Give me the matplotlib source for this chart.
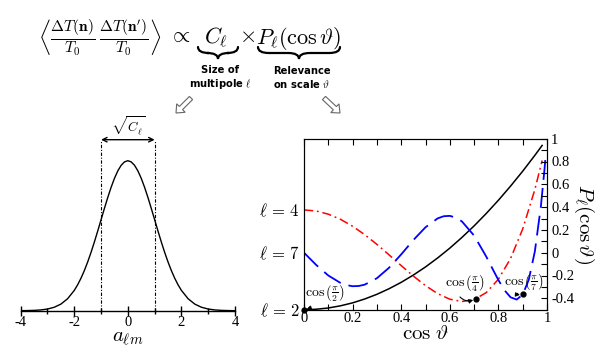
import matplotlib
matplotlib.use("Agg")
import matplotlib.pyplot as plt
from matplotlib.path import Path
from matplotlib.patches import PathPatch, FancyArrow
from matplotlib.transforms import IdentityTransform

plt.rcParams['mathtext.fontset'] = 'cm'
plt.rcParams['font.family'] = ['Liberation Serif', 'DejaVu Serif']

W, H = 605, 348

# left panel: distribution of a_lm
a_lm = [-4, -3.75, -3.5, -3.25, -3, -2.75, -2.5, -2.25, -2, -1.875, -1.75, -1.625,
        -1.5, -1.375, -1.25, -1.125, -1, -0.875, -0.75, -0.625, -0.5, -0.375, -0.25,
        -0.125, 0, 0.125, 0.25, 0.375, 0.5, 0.625, 0.75, 0.875, 1, 1.125, 1.25,
        1.375, 1.5, 1.625, 1.75, 1.875, 2, 2.25, 2.5, 2.75, 3, 3.25, 3.5, 3.75, 4]
density = [0.0003, 0.0009, 0.0022, 0.0051, 0.0111, 0.0228, 0.0439, 0.0796, 0.1353,
           0.1724, 0.2163, 0.2671, 0.3247, 0.3886, 0.4578, 0.5311, 0.6065, 0.6819,
           0.7548, 0.8226, 0.8825, 0.9321, 0.9692, 0.9922, 1.0, 0.9922, 0.9692,
           0.9321, 0.8825, 0.8226, 0.7548, 0.6819, 0.6065, 0.5311, 0.4578, 0.3886,
           0.3247, 0.2671, 0.2163, 0.1724, 0.1353, 0.0796, 0.0439, 0.0228, 0.0111,
           0.0051, 0.0022, 0.0009, 0.0003]
sigma_band = [-1, 1]
band_top = 1.14

# right panel: Legendre polynomials
x_p2 = [0, 0.05, 0.1, 0.15, 0.2, 0.25, 0.3, 0.35, 0.4, 0.45, 0.5, 0.55, 0.6, 0.65,
        0.7, 0.75, 0.8, 0.85, 0.9, 0.95, 0.98]
p2 = [-0.5, -0.496, -0.485, -0.466, -0.44, -0.406, -0.365, -0.316, -0.26, -0.196,
      -0.125, -0.046, 0.04, 0.134, 0.235, 0.344, 0.46, 0.584, 0.715, 0.854, 0.941]
x_p4 = x_p2
p4 = [0.375, 0.366, 0.338, 0.293, 0.232, 0.158, 0.073, -0.019, -0.113, -0.205,
      -0.289, -0.359, -0.408, -0.428, -0.412, -0.35, -0.233, -0.051, 0.208, 0.554, 0.809]
x_p7 = [0, 0.05, 0.1, 0.15, 0.175, 0.2, 0.225, 0.25, 0.3, 0.35, 0.4, 0.45, 0.5, 0.55,
        0.575, 0.6, 0.625, 0.65, 0.7, 0.75, 0.775, 0.8, 0.825, 0.85, 0.875, 0.9, 0.925,
        0.95, 0.975, 0.99, 0.995]
p7 = [0, -0.107, -0.2, -0.265, -0.284, -0.294, -0.292, -0.28, -0.224, -0.132, -0.015,
      0.111, 0.223, 0.301, 0.32, 0.323, 0.308, 0.274, 0.15, -0.034, -0.138, -0.24,
      -0.329, -0.391, -0.411, -0.368, -0.237, 0.011, 0.41, 0.738, 0.865]

ell_ticks = [-0.5, 0, 0.375]
ell_labels = [r'$\ell\,=\,2$', r'$\ell\,=\,7$', r'$\ell\,=\,4$']
marks_x = [0, 0.707, 0.9]
marks_y = [-0.5, -0.406, -0.364]
mark_labels = [r'$\cos\left(\frac{\pi}{2}\right)$', r'$\cos\left(\frac{\pi}{4}\right)$',
               r'$\cos\left(\frac{\pi}{7}\right)$']
mark_text_pos = [(0.085, -0.355), (0.663, -0.267), (0.907, -0.259)]

fig = plt.figure(figsize=(W / 100, H / 100), dpi=100)


def px_box(x0, y_top, x1, y_bot):
    return [x0 / W, 1 - y_bot / H, (x1 - x0) / W, (y_bot - y_top) / H]


# ---- left panel ----
ax1 = fig.add_axes(px_box(20.7, 115.7, 235, 310.7))
ax1.plot(a_lm, density, color='black', lw=1.0)
for xb in sigma_band:
    ax1.plot([xb, xb], [0, band_top], color='black', lw=0.8,
             linestyle=(0, (3, 1.5, 1, 1.5)))
ax1.annotate('', xy=(sigma_band[0], band_top), xytext=(sigma_band[1], band_top),
             arrowprops=dict(arrowstyle='<->', lw=1.0, color='black',
                             shrinkA=0, shrinkB=0, mutation_scale=8))
ax1.text(0, band_top + 0.02, r'$\sqrt{C_\ell}$', ha='center', va='bottom', fontsize=9.5)
ax1.set_xlim(-4, 4)
ax1.set_ylim(0, 1.3)
for s in ['left', 'right', 'top']:
    ax1.spines[s].set_visible(False)
ax1.spines['bottom'].set_linewidth(1.0)
ax1.set_yticks([])
ax1.set_xticks([-4, -2, 0, 2, 4])
ax1.set_xticklabels(['-4', '-2', '0', '2', '4'])
ax1.set_xticks([-3, -1, 1, 3], minor=True)
ax1.tick_params(axis='x', which='major', direction='inout', length=7, width=1.0,
                labelsize=10.5, pad=0)
ax1.tick_params(axis='x', which='minor', direction='inout', length=5, width=1.0)
ax1.set_xlabel(r'$a_{\ell m}$', fontsize=15, labelpad=0)

# ---- right panel ----
ax2 = fig.add_axes(px_box(304, 138.7, 547, 309.7))
ax2.plot(x_p2, p2, color='black', lw=1.1)
ax2.plot(x_p4, p4, color='#ff0000', lw=1.1, linestyle=(0, (6, 2.5, 1.2, 2.5)))
ax2.plot(x_p7, p7, color='#0000ff', lw=1.3, linestyle=(0, (11, 4.5)))
ax2.plot(marks_x, marks_y, 'o', color='black', ms=3.5, clip_on=False, zorder=5)
rads = [-0.45, 0.45, 0.45]
relx = [0.15, 0.3, 0.3]
for mx, my, lab, tp, rad, rx in zip(marks_x, marks_y, mark_labels, mark_text_pos, rads, relx):
    ax2.annotate(lab, xy=(mx, my), xytext=tp, ha='center', va='center', fontsize=10,
                 arrowprops=dict(arrowstyle='-|>', lw=0.8, color='black',
                                 connectionstyle=f'arc3,rad={rad}', relpos=(rx, 0),
                                 shrinkA=1, shrinkB=2, mutation_scale=6))
ax2.set_xlim(0, 1)
ax2.set_ylim(-0.5, 1.0)
ax2.set_xticks([0, 0.2, 0.4, 0.6, 0.8, 1])
ax2.set_xticklabels(['0', '0.2', '0.4', '0.6', '0.8', '1'])
ax2.set_xticks([0.1, 0.3, 0.5, 0.7, 0.9], minor=True)
ax2.tick_params(axis='x', which='both', direction='in', top=True, length=4,
                width=0.8, labelsize=10.5, pad=2)
ax2.set_yticks(ell_ticks)
ax2.set_yticklabels(ell_labels)
ax2.tick_params(axis='y', which='major', left=True, length=0, labelsize=12, pad=3)

ay = ax2.twinx()
ay.set_ylim(-0.5, 1.0)
ay.set_yticks([-0.4, -0.2, 0, 0.2, 0.4, 0.6, 0.8, 1])
ay.set_yticklabels(['-0.4', '-0.2', '0', '0.2', '0.4', '0.6', '0.8', '1'])
ay.set_yticks([-0.3, -0.1, 0.1, 0.3, 0.5, 0.7, 0.9], minor=True)
ay.tick_params(axis='y', which='both', direction='in', length=4, width=0.8,
               labelsize=10.5, pad=3)
ay.set_ylabel(r'$P_\ell(\cos\vartheta)$', fontsize=15, rotation=270, labelpad=16)
ax2.set_xlabel(r'$\cos\,\vartheta$', fontsize=15, labelpad=0)

# ---- top equation ----
eq_y = 1 - 38 / H
fig.text(38 / W, eq_y,
         r'$\left\langle\frac{\Delta T(\mathbf{n})}{T_0}\,\frac{\Delta T(\mathbf{n}^\prime)}{T_0}\right\rangle$',
         ha='left', va='center', fontsize=16)
fig.text(180 / W, eq_y, r'$\propto$', ha='center', va='center', fontsize=16)
fig.text(216 / W, eq_y, r'$C_\ell$', ha='center', va='center', fontsize=16)
fig.text(247 / W, eq_y, r'$\times$', ha='center', va='center', fontsize=16)
fig.text(299 / W, eq_y, r'$P_\ell(\cos\vartheta)$', ha='center', va='center', fontsize=16)


def brace(x0, x1, y, h):
    xm = (x0 + x1) / 2
    r = h * 0.9
    pts = [(x0, y), (x0, y + h / 2), (x0 + r, y + h / 2), (xm - r, y + h / 2),
           (xm, y + h / 2), (xm, y + h), (xm, y + h / 2), (xm + r, y + h / 2),
           (x1 - r, y + h / 2), (x1, y + h / 2), (x1, y)]
    codes = [Path.MOVETO, Path.CURVE3, Path.CURVE3, Path.LINETO, Path.CURVE3, Path.CURVE3,
             Path.CURVE3, Path.CURVE3, Path.LINETO, Path.CURVE3, Path.CURVE3]
    verts = [(px / W, 1 - py / H) for px, py in pts]
    fig.add_artist(PathPatch(Path(verts, codes), transform=fig.transFigure,
                             fill=False, lw=1.6, color='black', capstyle='round'))


brace(198, 238, 47, 12)
brace(258, 340, 47, 12)

fig.text(220 / W, 1 - 78 / H, 'Size of\nmultipole' + r' $\ell$', ha='center', va='center',
         fontsize=7.2, fontweight='bold', family='DejaVu Sans', linespacing=1.15)
fig.text(302 / W, 1 - 78 / H, 'Relevance\non scale' + r' $\vartheta$', ha='center', va='center',
         fontsize=7.2, fontweight='bold', family='DejaVu Sans', linespacing=1.15)

# hollow arrows pointing to the two panels
for x0, y0, dx, dy in [(191, 98, -15, 15), (324, 98, 16, 15)]:
    fig.add_artist(FancyArrow(x0, H - y0, dx, -dy, width=4.5, head_width=12, head_length=7,
                              length_includes_head=True, fc='white', ec='#666666', lw=0.8,
                              transform=IdentityTransform()))

fig.savefig('out.png', dpi=100)
